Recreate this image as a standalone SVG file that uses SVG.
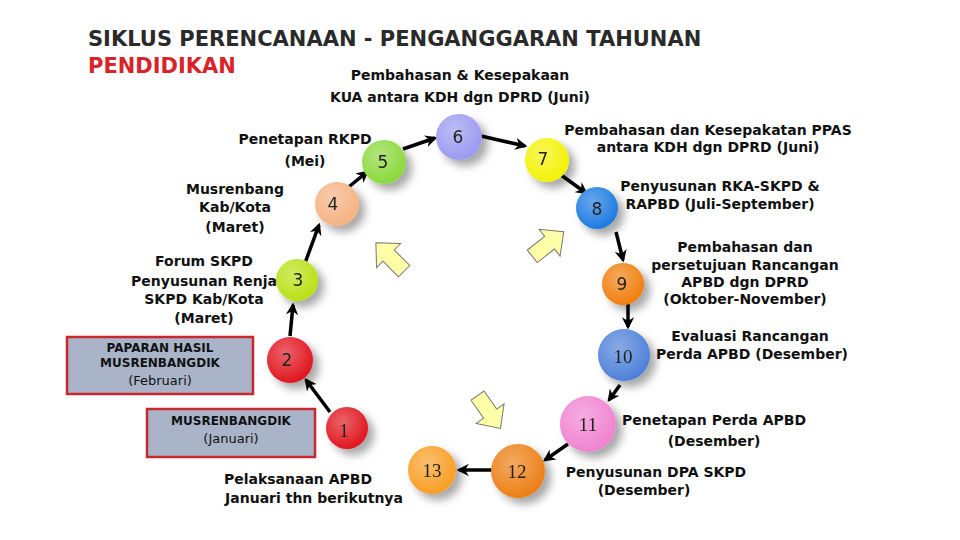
<svg xmlns="http://www.w3.org/2000/svg" width="960" height="540" viewBox="0 0 960 540">
<defs>
<style>
.t{font-family:"DejaVu Sans","Verdana",sans-serif;font-weight:bold;font-size:14px;fill:#111}
.n{font-family:"DejaVu Sans",sans-serif;font-size:17px;fill:#222;text-anchor:middle;dominant-baseline:central}
.s{font-family:"Liberation Serif",serif;font-size:19px;fill:#222;text-anchor:middle;dominant-baseline:central}
.c{stroke:none}
.a{stroke:#000;stroke-width:3.5;fill:none;marker-end:url(#ah)}
.box{fill:#aab4c8;stroke:#c8282d;stroke-width:2.5}
.ya{fill:#ffffa8;stroke:#777;stroke-width:1}
</style>
<marker id="ah" viewBox="0 0 10 10" refX="8" refY="5" markerWidth="3.5" markerHeight="3.5" orient="auto"><path d="M0,0 L10,5 L0,10 L3,5 z" fill="#000"/></marker>
<filter id="sh" x="-50%" y="-50%" width="200%" height="200%"><feDropShadow dx="6" dy="6" stdDeviation="4" flood-color="#000" flood-opacity="0.35"/></filter>
<radialGradient id="g" cx="0.4" cy="0.35" r="0.7"><stop offset="0" stop-color="#fff" stop-opacity="0.35"/><stop offset="1" stop-color="#fff" stop-opacity="0"/></radialGradient>
</defs>
<rect width="960" height="540" fill="#fff"/>
<text x="88" y="46" style="font-family:'DejaVu Sans',sans-serif;font-weight:bold;font-size:21px;fill:#2a2a2a">SIKLUS PERENCANAAN - PENGANGGARAN TAHUNAN</text>
<text x="88" y="73" style="font-family:'DejaVu Sans',sans-serif;font-weight:bold;font-size:21px;fill:#d8232a">PENDIDIKAN</text>
<g id="label-top" class="t" text-anchor="middle"><text x="460" y="80">Pembahasan &amp; Kesepakaan</text><text x="460" y="102">KUA  antara KDH dgn DPRD (Juni)</text></g>

<g id="connectors">
<line class="a" x1="330" y1="412" x2="306" y2="380"/>
<line class="a" x1="290" y1="336" x2="293" y2="305"/>
<line class="a" x1="305" y1="263" x2="319" y2="225"/>
<line class="a" x1="345" y1="190" x2="367" y2="172"/>
<line class="a" x1="403" y1="149" x2="435" y2="138"/>
<line class="a" x1="481" y1="136" x2="525" y2="146"/>
<line class="a" x1="561" y1="175" x2="586" y2="193"/>
<line class="a" x1="616" y1="232" x2="623" y2="260"/>
<line class="a" x1="628" y1="304" x2="628" y2="327"/>
<line class="a" x1="620" y1="385" x2="609" y2="400"/>
<line class="a" x1="568" y1="444" x2="545" y2="460"/>
<line class="a" x1="492" y1="470" x2="459" y2="470"/>
</g>

<g class="ya">
<polygon transform="translate(390,257) rotate(-135)" points="-20,-8 2,-8 2,-17 20,0 2,17 2,8 -20,8"/>
<polygon transform="translate(548,244) rotate(-38)" points="-20,-8 2,-8 2,-17 20,0 2,17 2,8 -20,8"/>
<polygon transform="translate(489,412) rotate(55)" points="-20,-8 2,-8 2,-17 20,0 2,17 2,8 -20,8"/>
</g>

<g id="n1" filter="url(#sh)"><circle cx="347" cy="428" r="21" fill="#e0101a"/><circle cx="347" cy="428" r="21" fill="url(#g)"/><text class="s" x="344" y="430">1</text></g>
<g id="n2" filter="url(#sh)"><circle cx="290" cy="360" r="23" fill="#e0101a"/><circle cx="290" cy="360" r="23" fill="url(#g)"/><text class="n" x="287" y="360">2</text></g>
<g id="n3" filter="url(#sh)"><circle cx="297" cy="280" r="21" fill="#b8e010"/><circle cx="297" cy="280" r="21" fill="url(#g)"/><text class="n" x="298" y="280">3</text></g>
<g id="n4" filter="url(#sh)"><circle cx="337" cy="204" r="22" fill="#f5b080"/><circle cx="337" cy="204" r="22" fill="url(#g)"/><text class="n" x="333" y="204">4</text></g>
<g id="n5" filter="url(#sh)"><circle cx="384" cy="162" r="22" fill="#88d838"/><circle cx="384" cy="162" r="22" fill="url(#g)"/><text class="n" x="383" y="162">5</text></g>
<g id="n6" filter="url(#sh)"><circle cx="459" cy="137" r="23" fill="#9898f0"/><circle cx="459" cy="137" r="23" fill="url(#g)"/><text class="n" x="458" y="137">6</text></g>
<g id="n7" filter="url(#sh)"><circle cx="547" cy="160" r="22" fill="#f4f200"/><circle cx="547" cy="160" r="22" fill="url(#g)"/><text class="n" x="543" y="159">7</text></g>
<g id="n8" filter="url(#sh)"><circle cx="597" cy="208" r="21" fill="#1878e0"/><circle cx="597" cy="208" r="21" fill="url(#g)"/><text class="n" x="597" y="209">8</text></g>
<g id="n9" filter="url(#sh)"><circle cx="623" cy="284" r="21" fill="#f07c08"/><circle cx="623" cy="284" r="21" fill="url(#g)"/><text class="n" x="622" y="284">9</text></g>
<g id="n10" filter="url(#sh)"><circle cx="624" cy="355" r="26" fill="#4a7ed8"/><circle cx="624" cy="355" r="26" fill="url(#g)"/><text class="s" x="623" y="356">10</text></g>
<g id="n11" filter="url(#sh)"><circle cx="588" cy="424" r="28" fill="#f080d0"/><circle cx="588" cy="424" r="28" fill="url(#g)"/><text class="s" x="588" y="424">11</text></g>
<g id="n12" filter="url(#sh)"><circle cx="518" cy="471" r="27" fill="#ec7c10"/><circle cx="518" cy="471" r="27" fill="url(#g)"/><text class="s" x="517" y="471">12</text></g>
<g id="n13" filter="url(#sh)"><circle cx="432" cy="470" r="24" fill="#f89c20"/><circle cx="432" cy="470" r="24" fill="url(#g)"/><text class="s" x="432" y="470">13</text></g>

<g id="box1"><rect class="box" x="67" y="337" width="186" height="57"/>
<text x="160" y="352" text-anchor="middle" style="font-family:'DejaVu Sans',sans-serif;font-weight:bold;font-size:12px;fill:#111">PAPARAN HASIL</text>
<text x="160" y="367" text-anchor="middle" style="font-family:'DejaVu Sans',sans-serif;font-weight:bold;font-size:12px;fill:#111">MUSRENBANGDIK</text>
<text x="160" y="385" text-anchor="middle" style="font-family:'DejaVu Sans',sans-serif;font-size:13px;fill:#111">(Februari)</text></g>
<g id="box2"><rect class="box" x="147" y="409" width="168" height="48"/>
<text x="231" y="425" text-anchor="middle" style="font-family:'DejaVu Sans',sans-serif;font-weight:bold;font-size:12px;fill:#111">MUSRENBANGDIK</text>
<text x="231" y="443" text-anchor="middle" style="font-family:'DejaVu Sans',sans-serif;font-size:13px;fill:#111">(Januari)</text></g>

<g class="t" text-anchor="middle">
<g id="l5"><text x="305" y="144">Penetapan RKPD</text><text x="305" y="166">(Mei)</text></g>
<g id="l4"><text x="235" y="194">Musrenbang</text><text x="235" y="212">Kab/Kota</text><text x="235" y="232">(Maret)</text></g>
<g id="l3"><text x="204" y="266">Forum SKPD</text><text x="204" y="286">Penyusunan Renja</text><text x="204" y="304">SKPD  Kab/Kota</text><text x="204" y="323">(Maret)</text></g>
<g id="l7"><text x="708" y="135">Pembahasan dan Kesepakatan PPAS</text><text x="708" y="152">antara KDH dgn DPRD (Juni)</text></g>
<g id="l8"><text x="720" y="191">Penyusunan RKA-SKPD &amp;</text><text x="720" y="209">RAPBD (Juli-September)</text></g>
<g id="l9"><text x="745" y="252">Pembahasan dan</text><text x="745" y="270">persetujuan Rancangan</text><text x="745" y="287">APBD dgn DPRD</text><text x="745" y="304">(Oktober-November)</text></g>
<g id="l10"><text x="750" y="341">Evaluasi Rancangan</text><text x="752" y="359">Perda APBD (Desember)</text></g>
<g id="l11"><text x="714" y="425">Penetapan Perda APBD</text><text x="714" y="446">(Desember)</text></g>
<g id="l12"><text x="656" y="477">Penyusunan DPA SKPD</text><text x="644" y="495">(Desember)</text></g>
<g id="l13"><text x="298" y="484">Pelaksanaan APBD</text><text x="314" y="503">Januari thn berikutnya</text></g>
</g>
</svg>
